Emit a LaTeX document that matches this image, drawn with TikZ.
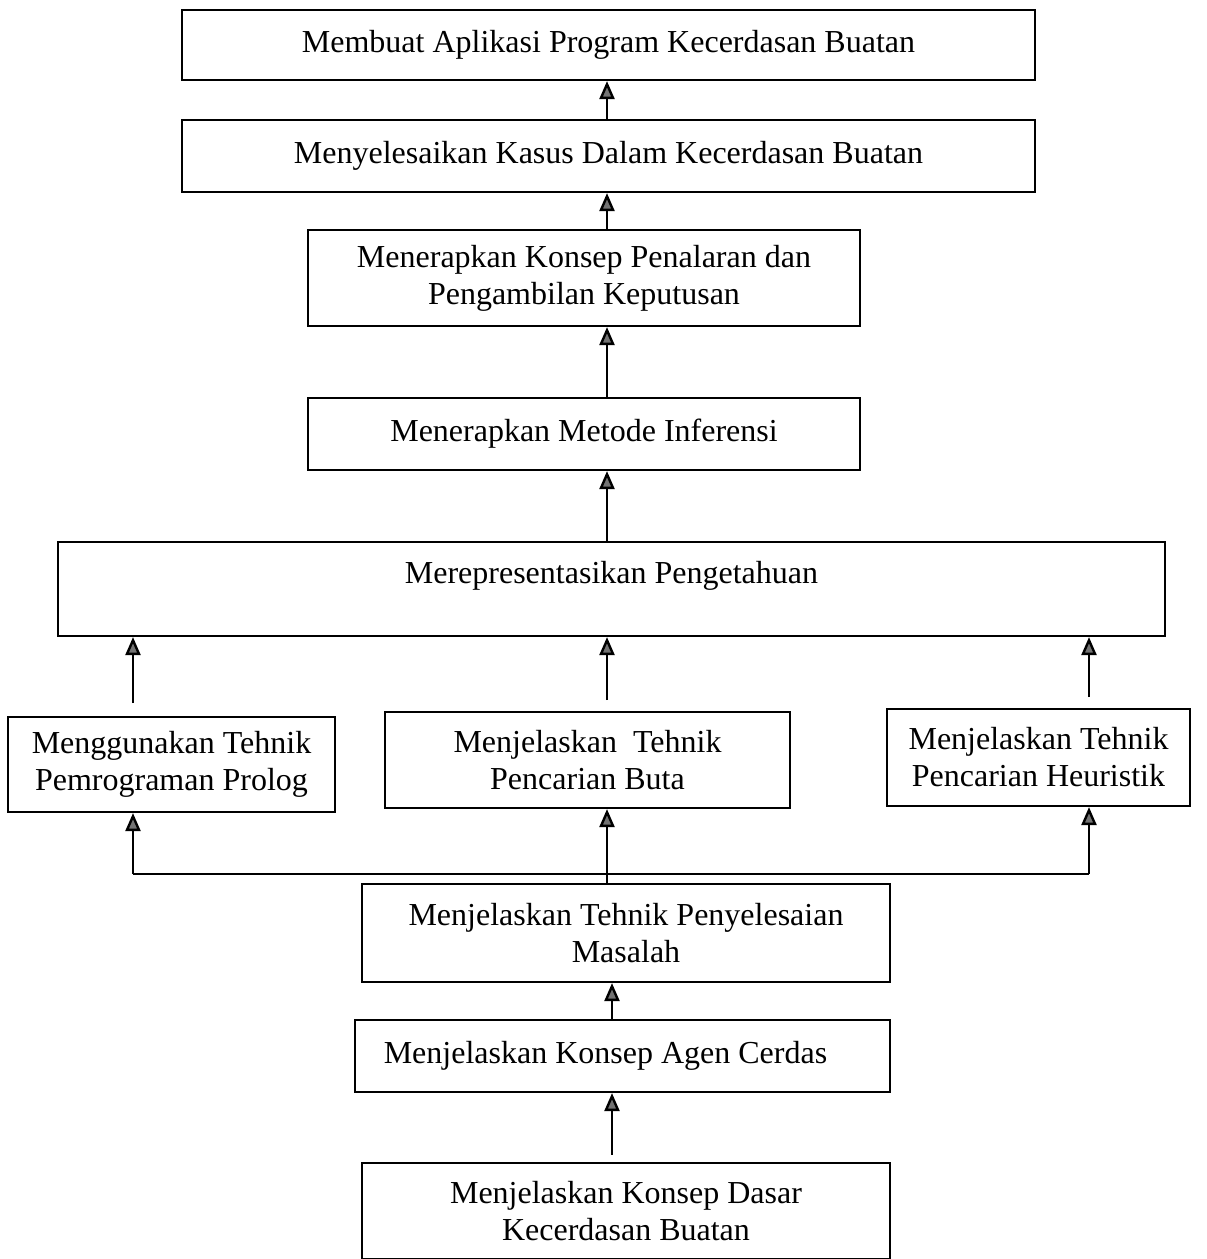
\documentclass[tikz,border=0pt]{standalone}
\usepackage{fontspec}
\setmainfont{Liberation Serif}
\usetikzlibrary{arrows.meta}
\begin{document}
\begin{tikzpicture}[x=0.5pt,y=-0.5pt,
  box/.style={draw,line width=1.1pt,align=center,inner sep=0pt,
    font=\fontsize{16pt}{18.5pt}\selectfont},
  arr/.style={line width=1.2pt,-{Triangle[width=7.5pt,length=9pt,fill=black!55]}},
  ln/.style={line width=1.2pt}]
\useasboundingbox (0,0) rectangle (1206,1259);
\node[box,minimum width=853*0.5pt,minimum height=70*0.5pt] (b1) at (608.5,45) {Membuat Aplikasi Program Kecerdasan Buatan};
\node[box,minimum width=853*0.5pt,minimum height=72*0.5pt] (b2) at (608.5,156) {Menyelesaikan Kasus Dalam Kecerdasan Buatan};
\node[box,minimum width=552*0.5pt,minimum height=96*0.5pt] (b3) at (584,278) {Menerapkan Konsep Penalaran dan\\Pengambilan Keputusan};
\node[box,minimum width=552*0.5pt,minimum height=72*0.5pt] (b4) at (584,434) {Menerapkan Metode Inferensi};
\node[box,minimum width=1107*0.5pt,minimum height=94*0.5pt,text depth=17pt] (b5) at (611.5,589) {Merepresentasikan Pengetahuan};
\node[box,minimum width=327*0.5pt,minimum height=95*0.5pt] (b6) at (171.5,764.5) {Menggunakan Tehnik\\Pemrograman Prolog};
\node[box,minimum width=405*0.5pt,minimum height=96*0.5pt] (b7) at (587.5,760) {Menjelaskan~ Tehnik\\Pencarian Buta};
\node[box,minimum width=303*0.5pt,minimum height=97*0.5pt] (b8) at (1038.5,757.5) {Menjelaskan Tehnik\\Pencarian Heuristik};
\node[box,minimum width=528*0.5pt,minimum height=98*0.5pt] (b9) at (626,933) {Menjelaskan Tehnik Penyelesaian\\Masalah};
\node[box,minimum width=535*0.5pt,minimum height=72*0.5pt] (b10) at (622.5,1056) {Menjelaskan Konsep Agen Cerdas\hspace*{17pt}};
\node[box,minimum width=528*0.5pt,minimum height=96*0.5pt] (b11) at (626,1211) {Menjelaskan Konsep Dasar\\Kecerdasan Buatan};
% columns
\coordinate (cm) at (607,0);
\coordinate (cl) at (133,0);
\coordinate (cr) at (1089,0);
\coordinate (cb) at (612,0);
\coordinate (tl) at (133,703);
\coordinate (tm) at (607,700);
\coordinate (tr) at (1089,697);
\coordinate (hl) at (133,874);
\coordinate (hr) at (1089,874);
% arrows
\draw[arr] (b2.north -| cm) -- (b1.south -| cm);
\draw[arr] (b3.north -| cm) -- (b2.south -| cm);
\draw[arr] (b4.north -| cm) -- (b3.south -| cm);
\draw[arr] (b5.north -| cm) -- (b4.south -| cm);
\draw[arr] (tl) -- (b5.south -| cl);
\draw[arr] (tm) -- (b5.south -| cm);
\draw[arr] (tr) -- (b5.south -| cr);
\draw[arr] (b9.north -| cm) -- (b7.south -| cm);
\draw[ln] (hl) -- (hr);
\draw[arr] (hl) -- (b6.south -| cl);
\draw[arr] (hr) -- (b8.south -| cr);
\draw[arr] (b10.north -| cb) -- (b9.south -| cb);
\draw[arr] ([yshift=3.5pt]b11.north -| cb) -- (b10.south -| cb);
\end{tikzpicture}
\end{document}
